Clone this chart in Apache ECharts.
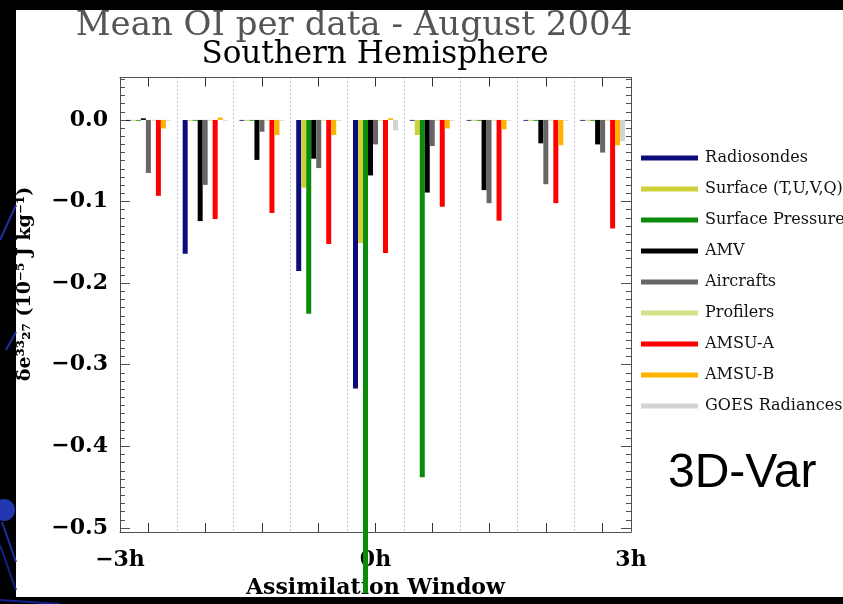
<!DOCTYPE html>
<html>
<head>
<meta charset="utf-8">
<title>Mean OI per data - August 2004</title>
<style>
  * { margin: 0; padding: 0; }
  html, body { width: 100%; height: 100%; background: #000; }
  #chart { width: 843px; height: 604px; }
</style>
</head>
<body>
<div id="chart"></div>
<script src="https://cdn.jsdelivr.net/npm/echarts@6/dist/echarts.min.js"></script>
<script>
// 40-minute bins across the 6h assimilation window
const bins = ['-2h40', '-2h', '-1h20', '-0h40', '0h', '0h40', '1h20', '2h', '2h40'];

const radiosondes     = [-0.001, -0.164, -0.001, -0.185, -0.329, -0.001, -0.001, -0.001, -0.001];
const surfaceTUVQ     = [-0.001, -0.001, -0.001, -0.083, -0.151, -0.0185, -0.001, -0.001, -0.001];
const surfacePressure = [-0.001, -0.001, -0.001, -0.2375, -0.58, -0.438, -0.001, -0.001, -0.001];
const amv             = [0.002, -0.124, -0.049, -0.0475, -0.068, -0.089, -0.086, -0.0287, -0.030];
const aircrafts       = [-0.065, -0.0796, -0.0145, -0.059, -0.030, -0.032, -0.102, -0.0788, -0.040];
const profilers       = [-0.001, -0.001, -0.001, -0.001, -0.001, -0.001, -0.001, -0.001, -0.001];
const amsuA           = [-0.093, -0.1215, -0.114, -0.152, -0.163, -0.1064, -0.1235, -0.102, -0.133];
const amsuB           = [-0.0104, 0.003, -0.0185, -0.0185, 0.002, -0.0104, -0.0116, -0.031, -0.031];
const goes            = [-0.001, -0.001, -0.001, -0.001, -0.0128, -0.001, -0.001, -0.001, -0.026];

const seriesNames = ['Radiosondes', 'Surface (T,U,V,Q)', 'Surface Pressure', 'AMV', 'Aircrafts',
  'Profilers', 'AMSU-A', 'AMSU-B', 'GOES Radiances'];
const seriesData = [radiosondes, surfaceTUVQ, surfacePressure, amv, aircrafts, profilers, amsuA, amsuB, goes];
const seriesColors = ['#0c0c7a', '#cfcf3a', '#0a8c0a', '#000000', '#676767', '#d2e38a', '#ff0000', '#ffb300', '#d3d3d3'];

const yTicks = [0, -0.1, -0.2, -0.3, -0.4, -0.5];
const yTickLabels = ['0.0', '\u22120.1', '\u22120.2', '\u22120.3', '\u22120.4', '\u22120.5'];
const xTickLabels = ['\u22123h', '0h', '3h'];

// minor ticks every 0.01
const yMinor = [];
for (let i = -50; i <= 5; i++) yMinor.push(i / 100);

const Y_MIN = -0.505, Y_MAX = 0.052;
const axisColor = '#505050';
const serif = 'DejaVu Serif';

const chart = echarts.init(document.getElementById('chart'));

const series = seriesNames.map((name, i) => ({
  name: name,
  type: 'bar',
  data: seriesData[i],
  barWidth: 5,
  barGap: '0%',
  clip: false,
  itemStyle: { color: seriesColors[i] },
  emphasis: { disabled: true }
}));

const yMajorAxis = (pos, withLabel) => ({
  type: 'value', position: pos, min: Y_MIN, max: Y_MAX,
  axisLine: { show: true, onZero: false, lineStyle: { color: axisColor, width: 1 } },
  axisTick: { show: true, inside: true, length: 10, customValues: yTicks, lineStyle: { color: axisColor } },
  axisLabel: withLabel ? {
    show: true, customValues: yTicks, margin: 12,
    formatter: v => yTickLabels[yTicks.indexOf(v)] || '',
    fontFamily: serif, fontSize: 22, fontWeight: 'bold', color: '#000'
  } : { show: false },
  splitLine: { show: false }
});
const yMinorAxis = pos => ({
  type: 'value', position: pos, min: Y_MIN, max: Y_MAX,
  axisLine: { show: false, onZero: false },
  axisTick: { show: true, inside: true, length: 5, customValues: yMinor, lineStyle: { color: axisColor } },
  axisLabel: { show: false },
  splitLine: { show: false }
});

const catAxis = (pos, split) => ({
  type: 'category', data: bins, position: pos,
  axisLine: { show: true, onZero: false, lineStyle: { color: axisColor } },
  axisTick: { show: true, inside: true, alignWithLabel: true, interval: 0, length: 9, lineStyle: { color: '#333', width: 1 } },
  axisLabel: { show: true, interval: 0, formatter: () => '' },
  splitLine: { show: split, interval: 0, lineStyle: { type: [1, 3], color: '#8a8a8a', width: 1 } }
});

chart.setOption({
  backgroundColor: '#000',
  animation: false,
  grid: { left: 120, right: 212, top: 77.5, bottom: 70, containLabel: false },
  legend: {
    orient: 'vertical', left: 636, top: 145,
    icon: 'rect', itemWidth: 57, itemHeight: 5, itemGap: 15,
    textStyle: { fontFamily: serif, fontSize: 16, color: '#111', lineHeight: 16, padding: [0, 0, 0, 2] },
    data: seriesNames
  },
  xAxis: [
    catAxis('bottom', true),
    catAxis('top', false),
    {
      type: 'value', position: 'bottom', min: -3, max: 3, interval: 3,
      axisLine: { show: false, onZero: false }, axisTick: { show: false }, splitLine: { show: false },
      axisLabel: {
        margin: 17, formatter: (v, i) => xTickLabels[i],
        fontFamily: serif, fontSize: 22, fontWeight: 'bold', color: '#000'
      },
      name: 'Assimilation Window', nameLocation: 'middle', nameGap: 45,
      nameTextStyle: { fontFamily: serif, fontSize: 22, fontWeight: 'bold', color: '#000' }
    }
  ],
  yAxis: [yMajorAxis('left', true), yMinorAxis('left'), yMajorAxis('right', false), yMinorAxis('right')],
  graphic: [
    { type: 'rect', z: -100, shape: { x: 16, y: 10, width: 827, height: 587 }, style: { fill: '#fff' } },
    // slide decoration on the left strip
    { type: 'line', z: -50, shape: { x1: 0, y1: 240, x2: 16, y2: 205 }, style: { stroke: '#1c2fa8', lineWidth: 2 } },
    { type: 'line', z: -50, shape: { x1: 6, y1: 350, x2: 16, y2: 332 }, style: { stroke: '#1c2fa8', lineWidth: 2 } },
    { type: 'circle', z: -50, shape: { cx: 4, cy: 510, r: 11 }, style: { fill: '#2238b0' } },
    { type: 'line', z: -50, shape: { x1: 2, y1: 522, x2: 16, y2: 562 }, style: { stroke: '#1c2fa8', lineWidth: 2 } },
    { type: 'line', z: -50, shape: { x1: 0, y1: 545, x2: 16, y2: 590 }, style: { stroke: '#14208a', lineWidth: 2 } },
    { type: 'rect', z: 100, shape: { x: 0, y: 0, width: 843, height: 10 }, style: { fill: '#000' } },
    { type: 'rect', z: 100, shape: { x: 0, y: 597, width: 843, height: 7 }, style: { fill: '#000' } },
    { type: 'line', z: 101, shape: { x1: 0, y1: 600, x2: 60, y2: 604 }, style: { stroke: '#14208a', lineWidth: 2 } },
    {
      type: 'text', z: 50,
      style: { text: 'Mean OI per data - August 2004', x: 354, y: 26, textAlign: 'center', textVerticalAlign: 'middle',
        font: '34px "DejaVu Serif"', fill: '#555' }
    },
    {
      type: 'text', z: 50,
      style: { text: 'Southern Hemisphere', x: 375, y: 55, textAlign: 'center', textVerticalAlign: 'middle',
        font: '31px "DejaVu Serif"', fill: '#000' }
    },
    {
      type: 'text', z: 50, x: 25, y: 284, rotation: Math.PI / 2,
      style: { text: '\u03b4e\u00b3\u00b3\u2082\u2087 (10\u207b\u2075 J kg\u207b\u00b9)', x: 0, y: 0,
        textAlign: 'center', textVerticalAlign: 'middle', font: 'bold 19px "DejaVu Serif"', fill: '#000' }
    },
    {
      type: 'text', z: 50,
      style: { text: '3D-Var', x: 668, y: 474, textAlign: 'left', textVerticalAlign: 'middle',
        font: '48px "Liberation Sans"', fill: '#000' }
    }
  ],
  series: series
});
</script>
</body>
</html>
